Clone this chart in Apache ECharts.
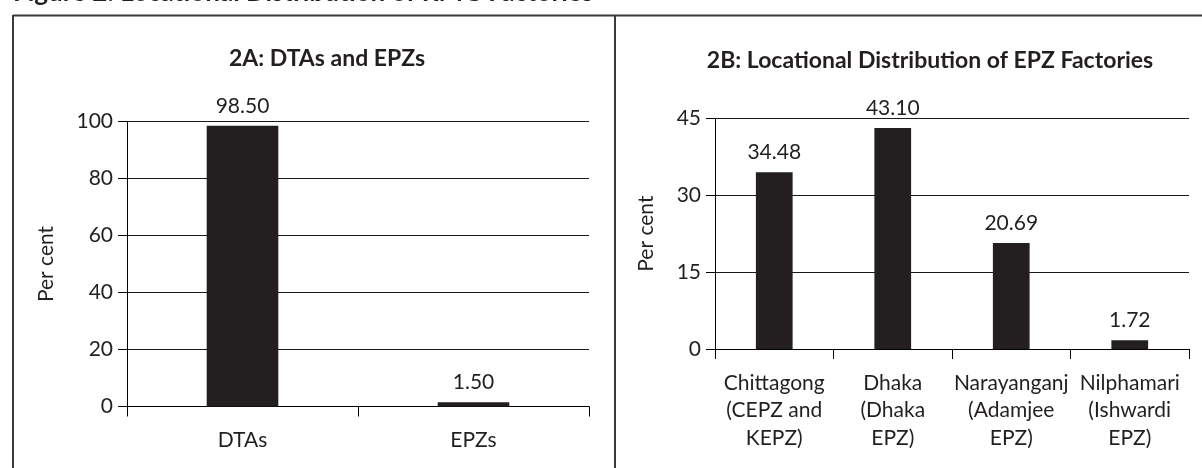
<!DOCTYPE html>
<html>
<head>
<meta charset="utf-8">
<script src="https://cdn.jsdelivr.net/npm/echarts@6/dist/echarts.min.js"></script>
<style>
  html, body { margin: 0; padding: 0; background: #fff; }
  #chart { width: 1202px; height: 468px; }
</style>
</head>
<body>
<div id="chart"></div>
<script>
// Panel 2A: factories by zone type
const zoneCategories = ['DTAs', 'EPZs'];
const zoneShares = [98.50, 1.50];
const zoneTicks = { min: 0, max: 100, interval: 20 };

// Panel 2B: EPZ factories by location
const epzCategories = [
  'Chittagong\n(CEPZ and\nKEPZ)',
  'Dhaka\n(Dhaka\nEPZ)',
  'Narayanganj\n(Adamjee\nEPZ)',
  'Nilphamari\n(Ishwardi\nEPZ)'
];
const epzShares = [34.48, 43.10, 20.69, 1.72];
const epzTicks = { min: 0, max: 45, interval: 15 };

const FONT = 'Lato';
const INK = '#231f20';
const BAR = '#231f20';
const FS = 21;

function valueAxis(gridIndex, ticks, nameGap) {
  return {
    type: 'value',
    gridIndex: gridIndex,
    min: ticks.min, max: ticks.max, interval: ticks.interval,
    name: 'Per cent',
    nameLocation: 'middle',
    nameGap: nameGap,
    nameTextStyle: { fontFamily: FONT, fontSize: FS, color: INK },
    axisLine: { show: true, lineStyle: { color: '#000', width: 1 } },
    axisTick: { show: true, length: 9, lineStyle: { color: '#000', width: 1 } },
    axisLabel: { margin: 14, fontFamily: FONT, fontSize: FS, color: INK },
    splitLine: { show: true, lineStyle: { color: '#1a1a1a', width: 1 } }
  };
}

function categoryAxis(gridIndex, cats) {
  return {
    type: 'category',
    gridIndex: gridIndex,
    data: cats,
    boundaryGap: true,
    axisLine: { show: true, lineStyle: { color: '#000', width: 1 } },
    axisTick: { show: true, length: 10, alignWithLabel: false, lineStyle: { color: '#000', width: 1 } },
    axisLabel: { margin: 20, interval: 0, fontFamily: FONT, fontSize: FS, color: INK, lineHeight: 27.5 },
    splitLine: { show: false }
  };
}

function barSeries(idx, values) {
  return {
    type: 'bar',
    xAxisIndex: idx,
    yAxisIndex: idx,
    data: values,
    barWidth: '31%',
    itemStyle: { color: BAR },
    label: {
      show: true,
      position: 'top',
      distance: 9,
      fontFamily: FONT,
      fontSize: FS,
      color: INK,
      formatter: p => p.value.toFixed(2)
    },
    silent: true
  };
}

const chart = echarts.init(document.getElementById('chart'), null, { renderer: 'canvas' });
chart.setOption({
  animation: false,
  backgroundColor: '#fff',
  title: [
    {
      text: '2A: DTAs and EPZs',
      left: 322, top: 42, textAlign: 'center',
      textStyle: { fontFamily: FONT, fontWeight: 'bold', fontSize: 23, color: INK }
    },
    {
      text: '2B: Locational Distribution of EPZ Factories',
      left: 925, top: 44, textAlign: 'center',
      textStyle: { fontFamily: FONT, fontWeight: 'bold', fontSize: 23, color: INK }
    }
  ],
  grid: [
    { left: 127, right: 613, top: 121.5, bottom: 61.5 },
    { left: 715, right: 13, top: 118.3, bottom: 119 }
  ],
  xAxis: [categoryAxis(0, zoneCategories), categoryAxis(1, epzCategories)],
  yAxis: [valueAxis(0, zoneTicks, 70), valueAxis(1, epzTicks, 58)],
  series: [barSeries(0, zoneShares), barSeries(1, epzShares)],
  graphic: [
    {
      type: 'text', left: 13, top: -20, silent: true,
      style: {
        text: 'Figure 2: Locational Distribution of RMG Factories',
        fontFamily: FONT, fontWeight: 'bold', fontSize: 26, fill: INK
      }
    },
    { type: 'line', silent: true, shape: { x1: 13, y1: 15.5, x2: 1202, y2: 15.5 }, style: { stroke: '#3a3a3a', lineWidth: 2 } },
    { type: 'line', silent: true, shape: { x1: 13, y1: 15, x2: 13, y2: 468 }, style: { stroke: '#3a3a3a', lineWidth: 2 } },
    { type: 'line', silent: true, shape: { x1: 615, y1: 15, x2: 615, y2: 468 }, style: { stroke: '#3a3a3a', lineWidth: 2 } }
  ]
});
</script>
</body>
</html>
